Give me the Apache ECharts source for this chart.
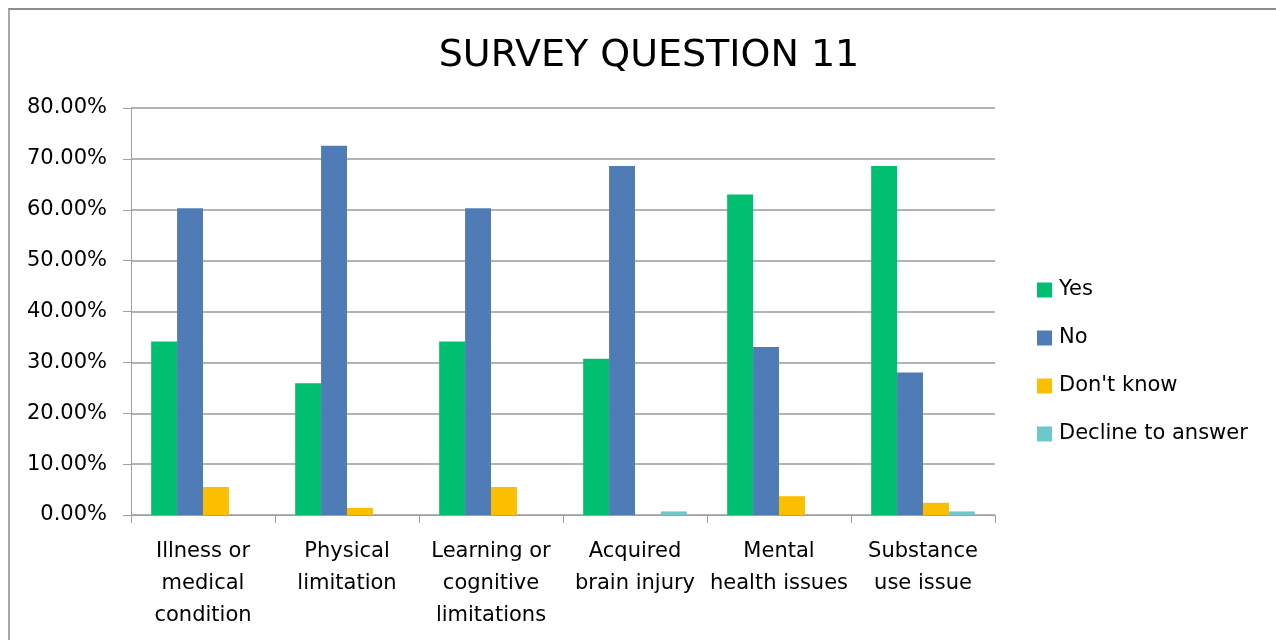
<!DOCTYPE html>
<html>
<head>
<meta charset="utf-8">
<script src="https://cdn.jsdelivr.net/npm/echarts@6/dist/echarts.min.js"></script>
<style>
html,body{margin:0;padding:0;background:#fff;}
#frame{position:absolute;left:8px;top:8px;width:1268px;height:632px;border-top:2px solid #8c8c8c;border-left:2px solid #a8a8a8;box-sizing:border-box;}
#chart{position:absolute;left:0;top:0;width:1276px;height:640px;}
</style>
</head>
<body>
<div id="frame"></div>
<div id="chart"></div>
<script>
const categories = [
  "Illness or\nmedical\ncondition",
  "Physical\nlimitation",
  "Learning or\ncognitive\nlimitations",
  "Acquired\nbrain injury",
  "Mental\nhealth issues",
  "Substance\nuse issue"
];
const seriesNames = ["Yes", "No", "Don't know", "Decline to answer"];
const yesValues     = [34.1, 25.9, 34.1, 30.7, 63.0, 68.6];
const noValues      = [60.3, 72.6, 60.3, 68.6, 33.0, 28.0];
const dontKnowValues= [5.5, 1.4, 5.5, 0, 3.7, 2.4];
const declineValues = [0, 0, 0, 0.7, 0, 0.7];
const yTicks = { min: 0, max: 80, interval: 10 };
const colors = ["#00BF6F", "#4F7CB7", "#FBBF00", "#6EC8CB"];

const allValues = [yesValues, noValues, dontKnowValues, declineValues];
const FONT = "DejaVu Sans";

const chart = echarts.init(document.getElementById('chart'), null, {renderer: 'canvas'});
chart.setOption({
  backgroundColor: 'transparent',
  animation: false,
  title: {
    text: 'SURVEY QUESTION 11',
    left: 644, textAlign: 'center', top: 32,
    textStyle: { fontFamily: FONT, fontSize: 38, fontWeight: 'normal', color: '#000' }
  },
  legend: {
    orient: 'vertical',
    left: 1032, top: 273,
    itemWidth: 15, itemHeight: 15, itemGap: 24,
    icon: 'rect',
    data: seriesNames,
    textStyle: { fontFamily: FONT, fontSize: 21, color: '#000', lineHeight: 24, padding: [0,0,0,2] }
  },
  grid: { left: 131, right: 281, top: 108, bottom: 125, containLabel: false },
  xAxis: {
    type: 'category',
    data: categories,
    axisLine: { show: true, lineStyle: { color: '#a0a0a0', width: 1 } },
    axisTick: { show: true, length: 8, alignWithLabel: false, lineStyle: { color: '#a0a0a0' } },
    axisLabel: { interval: 0, margin: 21, fontFamily: FONT, fontSize: 21, color: '#000', lineHeight: 32, align: 'center' }
  },
  yAxis: {
    type: 'value',
    min: yTicks.min, max: yTicks.max, interval: yTicks.interval,
    axisLine: { show: true, lineStyle: { color: '#a0a0a0', width: 1 } },
    axisTick: { show: true, length: 8, inside: false, lineStyle: { color: '#a0a0a0' } },
    splitLine: { show: true, lineStyle: { color: '#9a9a9a', width: 1.5 } },
    axisLabel: { margin: 24, fontFamily: FONT, fontSize: 21, color: '#000',
      formatter: v => v.toFixed(2) + '%' }
  },
  series: seriesNames.map((name, i) => ({
    name: name,
    type: 'bar',
    data: allValues[i].map(v => v === 0 ? null : v),
    barGap: '0%',
    barCategoryGap: '28%',
    itemStyle: { color: colors[i] }
  }))
});
</script>
</body>
</html>
